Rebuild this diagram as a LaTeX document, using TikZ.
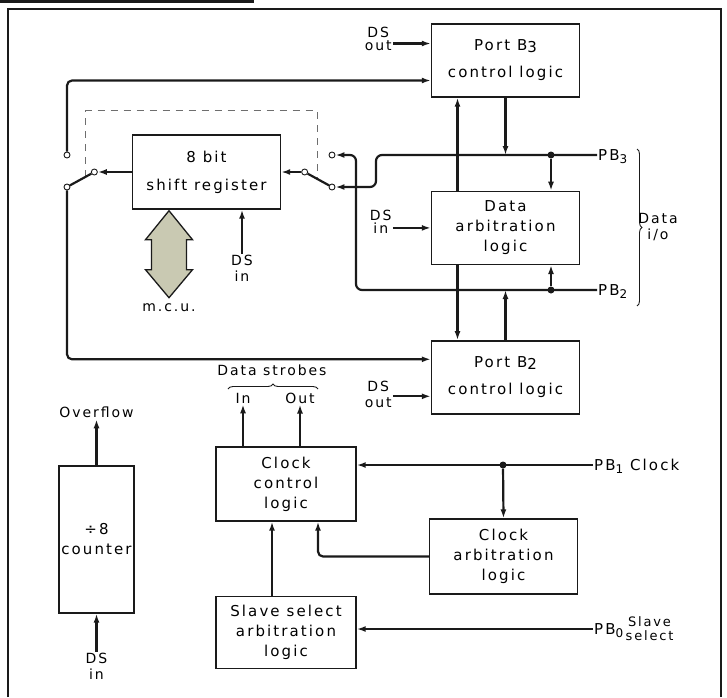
\documentclass[tikz,border=0pt]{standalone}
\usepackage{fontspec}
\setmainfont{DejaVu Sans}[LetterSpace=14]
\usetikzlibrary{positioning,arrows.meta,calc,decorations.pathreplacing}
\definecolor{cInk}{HTML}{1A1A1A}
\definecolor{cDash}{HTML}{6E6E6E}
\definecolor{cBus}{HTML}{C9C9B2}
\newcommand{\lowidx}[1]{\raisebox{-3pt}{\fontsize{12}{12}\selectfont #1}}
\tikzset{
  box/.style={draw=cInk,line width=1.4pt,align=center,font=\fontsize{15}{20}\selectfont,minimum width=148pt,minimum height=73pt,inner sep=2pt},
  lbl/.style={align=center,font=\fontsize{14}{16}\selectfont,inner sep=1pt},
  lblt/.style={lbl,font=\fontsize{14}{13}\selectfont},
  pinlbl/.style={anchor=west,font=\fontsize{15}{16}\selectfont,inner sep=1pt,text height=11pt,text depth=0pt},
  arr/.style={-{Latex[length=9pt,width=6pt]},line width=2.2pt,draw=cInk},
  wire/.style={line width=2.2pt,draw=cInk},
  contact/.style={circle,draw=cInk,fill=white,line width=0.9pt,inner sep=0pt,minimum size=6pt},
  junc/.style={circle,fill=cInk,inner sep=0pt,minimum size=7pt},
  gang/.style={draw=cDash,line width=0.9pt,dash pattern=on 7pt off 6pt},
  brc/.style={draw=cInk,line width=0.9pt,decorate,decoration={brace,amplitude=5pt}},
  busarrow/.style={draw=cInk,line width=1.3pt,fill=cBus,line join=miter}}

\begin{document}
\begin{tikzpicture}[x=1pt,y=-1pt,node distance=10pt]
\useasboundingbox (0,0) rectangle (727,697);
\fill[cInk] (0,0) rectangle (254,2.5);
\draw[cInk,line width=1.5pt] (8,697) |- (721,9) -- (721,697);

\node[box] (b3) at (505.5,60.5) {Port B\raisebox{-2pt}{3}\\[7pt]control logic};
\node[box, below=93pt of b3] (arb) {Data\\arbitration\\logic};
\node[box, below=75pt of arb] (b2) {Port B\raisebox{-2pt}{2}\\[7pt]control logic};
\node[box, minimum height=74pt] (sreg) at (206.5,172) {8 bit\\[8pt]shift register};
\node[box, minimum width=140pt, minimum height=74pt] (clk) at (286,484) {Clock\\control\\logic};
\node[box, minimum height=75pt] (clkarb) at (503.5,556.5) {Clock\\arbitration\\logic};
\node[box, minimum width=140pt, minimum height=72pt, below=74pt of clk] (slave) {Slave select\\arbitration\\logic};
\node[box, minimum width=75pt, minimum height=147pt] (cnt) at (96.5,539.5) {÷8\\counter};

\coordinate (b3ds) at ([yshift=17pt]b3.west);
\coordinate (b3sw) at ([yshift=-20pt]b3.west);
\coordinate (b2ds) at ([yshift=-19pt]b2.west);
\coordinate (b2sw) at ([yshift=18pt]b2.west);
\node[lblt, left=38pt of b3ds, yshift=5pt] (dsb3) {DS\\out};
\node[lblt, left=38pt of arb.west, yshift=6pt] (dsarb) {DS\\in};
\node[lbl, left=38pt of b2ds, yshift=2pt] (dsb2) {DS\\out};
\draw[arr] (dsb3.east |- b3ds) -- (b3ds);
\draw[arr] (dsarb.east |- arb.west) -- (arb.west);
\draw[arr] (dsb2.east |- b2ds) -- (b2ds);

\node[contact, left=34pt of sreg.west] (swLc) {};
\node[contact] (swLu) at (67,155) {};
\node[contact] (swLd) at (67,187) {};
\node[contact, right=20pt of sreg.east] (swRc) {};
\node[contact] (swRu) at (332,155) {};
\node[contact] (swRd) at (332,187) {};
\draw[gang] ($(swLd)!0.68!(swLc)$) -- ++(0,-66) -| ($(swRc)!0.46!(swRd)$);
\draw[wire] (swLd) -- (swLc);
\draw[wire] (swRc) -- (swRd);
\draw[arr] (sreg.west) -- (swLc);
\draw[arr] (swRc) -- (sreg.east);
\draw[arr, rounded corners=5pt] (swLu) |- (b3sw);
\draw[arr, rounded corners=5pt] (swLd) |- (b2sw);

\coordinate (busT) at ([xshift=-37.5pt,yshift=-1pt]sreg.south);
\draw[busarrow] (busT) -- ++(23.5,29) -- ++(-6,0) -- ++(0,30) -- ++(6,0) -- ++(-23.5,28)
  -- ++(-23.5,-28) -- ++(6,0) -- ++(0,-30) -- ++(-6,0) -- cycle;
\node[lbl, below=92pt of busT] (mcul) {m.c.u.};
\node[lbl, below=44pt of sreg.south, xshift=35.5pt] (dssr) {DS\\in};
\draw[arr] (dssr.north) -- (dssr.north |- sreg.south);

\node[pinlbl] (pb3) at (597,155) {PB\lowidx{3}};
\node[pinlbl] (pb2) at (597,290) {PB\lowidx{2}};
\node[pinlbl] (pb1) at (593,465) {PB\lowidx{1} Clock};
\node[pinlbl] (pb0) at (593,629) {PB\lowidx{0}};
\node[lbl, right=0pt of pb0, font=\fontsize{13}{14}\selectfont] (slsel) {Slave\\select};
\coordinate (ioT) at (637,149);
\coordinate (ioB) at (637,306);
\draw[brc] (ioT) -- (ioB);
\node[lbl] (dio) at (658,227) {Data\\i/o};

\draw[arr] ([xshift=-48pt]arb.north) -- ([xshift=-48pt]b3.south);
\draw[arr] (b3.south) -- (b3.south |- pb3.west);
\draw[arr] ([xshift=-48pt]arb.south) -- ([xshift=-48pt]b2.north);
\draw[arr] (b2.north) -- (b2.north |- pb2.west);
\coordinate (jog3) at (376,187);
\coordinate (jog2) at (356,155);
\draw[arr, rounded corners=6pt] (pb2.west) -| (jog2) -- (swRu);
\draw[arr, rounded corners=6pt] (pb3.west) -| (jog3) -- (swRd);
\node[junc] (dot3) at (551,155) {};
\node[junc] (dot2) at (551,290) {};
\draw[arr] (dot3) -- (dot3 |- arb.north);
\draw[arr] (dot2) -- (dot2 |- arb.south);

\node[lbl] (lin) at (243,398) {In};
\node[lbl] (lout) at (300,398) {Out};
\coordinate (dsL) at (228,389);
\coordinate (dsR) at (318,389);
\draw[brc] (dsL) -- (dsR);
\node[lbl] (dstr) at (272,370) {Data strobes};
\draw[arr] (lin.south |- clk.north) -- (lin.south);
\draw[arr] (lout.south |- clk.north) -- (lout.south);

\node[junc] (dot1) at (503,465) {};
\draw[arr] (pb1.west) -- (pb1.west -| clk.east);
\draw[arr] (dot1) -- (clkarb.north);
\draw[arr, rounded corners=5pt] (clkarb.west) -| ([xshift=32pt]clk.south);
\draw[arr] ([xshift=-14pt]slave.north) -- ([xshift=-14pt]clk.south);
\draw[arr] (pb0.west) -- (pb0.west -| slave.east);

\node[lbl, above=46pt of cnt] (ovf) {Overflow};
\node[lbl, below=38pt of cnt] (dscnt) {DS\\in};
\draw[arr] (cnt.north) -- (ovf.south);
\draw[arr] (dscnt.north) -- (cnt.south);
\end{tikzpicture}
\end{document}
